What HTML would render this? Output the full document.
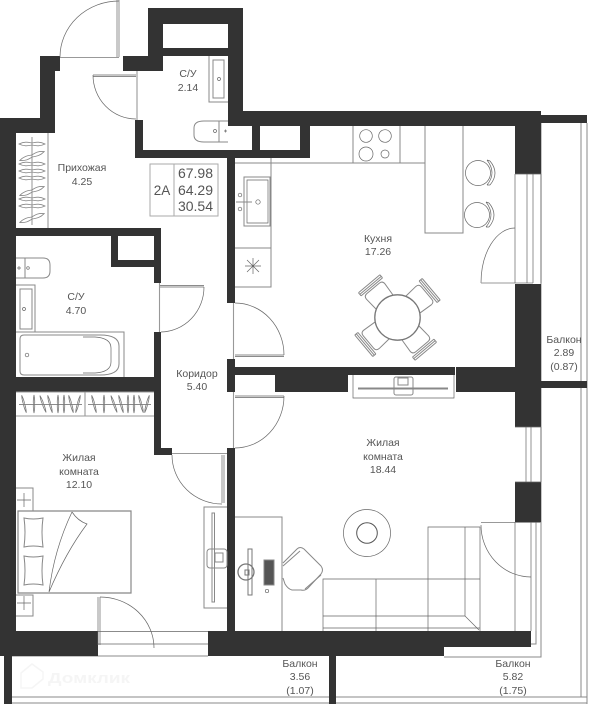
<!DOCTYPE html>
<html><head><meta charset="utf-8"><style>
html,body{margin:0;padding:0;background:#fff;width:600px;height:704px;overflow:hidden}
svg{display:block}
text{font-family:"Liberation Sans",sans-serif;font-size:10.5px;fill:#555;text-anchor:middle}
.w{fill:#333;stroke:none}
.l{fill:none;stroke:#666;stroke-width:.7}
.g{fill:none;stroke:#999;stroke-width:1.1}
.t{fill:none;stroke:#888;stroke-width:1}
</style></head><body>
<svg width="600" height="704" viewBox="0 0 600 704" xmlns="http://www.w3.org/2000/svg">
<defs>
<path id="hh" d="M19 0C25-3 29-1.500 32-1 35-1.500 39-3 45 0 39 3 35 1.500 32 1 29 1.500 25 3 19 0Z" fill="none" stroke="#888" stroke-width=".8"/>
<path id="hv" d="M0-9C-1.200-3-.6 0-.4 0-.6 0-1.200 3 0 9 1.200 3 .6 0 .4 0 .6 0 1.200-3 0-9Z" fill="none" stroke="#777" stroke-width=".8"/>
<g id="chair" fill="none" stroke="#888" stroke-width="1">
<path d="M-11 -20L-12 -34Q-12 -38 -8 -38L8 -38Q12 -38 12 -34L11 -20"/>
<path d="M-14 -40L14 -40M-14 -42L14 -42M-14 -44L14 -44M-14 -40L-14 -44M14 -40L14 -44"/>
</g>
</defs>

<!-- balconies -->
<g class="t">
<path d="M541 123V657H444"/>
<path d="M581 123V697M587 123V704"/>
<path d="M12 697H587M12 703H587"/>
<path d="M12 656H98"/>
<path d="M536 631V644H444"/>
</g>

<!-- walls -->
<rect class="w" x="148" y="8" width="95" height="16"/>
<rect class="w" x="148" y="8" width="15" height="63"/>
<rect class="w" x="148" y="48" width="95" height="8"/>
<rect class="w" x="228" y="8" width="15" height="118"/>
<rect class="w" x="123" y="56" width="40" height="15"/>
<rect class="w" x="228" y="111" width="313" height="15"/>
<rect class="w" x="252" y="126" width="8" height="24"/>
<rect class="w" x="135" y="120" width="8" height="38"/>
<rect class="w" x="135" y="150" width="175" height="8"/>
<rect class="w" x="300" y="126" width="10" height="32"/>
<rect class="w" x="227" y="158" width="8" height="145"/>
<rect class="w" x="515" y="111" width="26" height="63"/>
<rect class="w" x="40" y="56" width="20" height="15"/>
<rect class="w" x="40" y="56" width="15" height="77"/>
<rect class="w" x="0" y="118" width="55" height="15"/>
<rect class="w" x="0" y="118" width="16" height="538"/>
<rect class="w" x="0" y="228" width="161" height="8"/>
<rect class="w" x="154" y="228" width="7" height="55"/>
<rect class="w" x="111" y="236" width="7" height="31"/>
<rect class="w" x="111" y="260" width="50" height="7"/>
<rect class="w" x="154" y="332" width="7" height="123"/>
<rect class="w" x="16" y="377" width="145" height="15"/>
<rect class="w" x="154" y="448" width="18" height="7"/>
<rect class="w" x="227" y="359" width="8" height="33"/>
<rect class="w" x="227" y="448" width="8" height="190"/>
<rect class="w" x="235" y="367" width="220" height="8"/>
<rect class="w" x="275" y="367" width="73" height="25"/>
<rect class="w" x="456" y="367" width="85" height="25"/>
<rect class="w" x="515" y="284" width="26" height="143"/>
<rect class="w" x="515" y="482" width="26" height="40"/>
<rect class="w" x="0" y="631" width="98" height="25"/>
<rect class="w" x="208" y="631" width="236" height="25"/>
<rect class="w" x="444" y="631" width="87" height="16"/>
<rect class="w" x="4" y="656" width="8" height="48"/>
<rect class="w" x="329" y="656" width="7" height="48"/>
<rect class="w" x="541" y="115" width="46" height="8"/>
<rect class="w" x="541" y="381" width="46" height="7"/>

<!-- doors -->
<g class="l">
<path d="M119 1A59 56 0 0 0 60 57"/>
<path d="M93 75A43 44 0 0 0 136 119"/>
<path d="M204 287A44 45 0 0 1 161 332"/>
<path d="M284 355A49 52 0 0 0 235 303"/>
<path d="M284 396A49 52 0 0 1 235 448"/>
<path d="M172 455A50 49 0 0 0 222 504"/>
<path d="M100 597A54 51 0 0 1 154 648"/>
<path d="M515 228A34 55 0 0 0 481 283"/>
<path d="M481 525A50 52 0 0 0 531 577"/>
<path d="M117 0V57M119 0V57"/>
<path d="M93 75H136M93 76.500H136"/>
<path d="M160 287H204M160 285.500H204"/>
<path d="M235 355H284M235 356.500H284"/>
<path d="M235 396H284M235 397.500H284"/>
<path d="M222 455V503M224 455V503"/>
<path d="M98 597V645M100 597V645"/>
</g>
<g class="g">
<path d="M60 57.500H119"/><path d="M137 71V120"/>
<path d="M159.500 283V332"/><path d="M233.500 303V359"/><path d="M233.500 392V448"/>
<path d="M172 453.500H227"/>
<path d="M481 283H533"/><path d="M481 522.500H541"/>
</g>
<g class="l">
<path d="M98 631.500H208M98 644H208M98 656H208"/>
<path d="M515 174V283M541 174V283M515 174H541M527 174V283M533 174V283"/>
<path d="M515 427H541M515 482H541M526 427V482M531 427V482M541 427V482"/>
<path d="M515 522V631M531 522V631M536 522V631"/>
<path d="M353 375V398H454V375"/>
</g>

<!-- hall wardrobe -->
<path class="g" d="M48 133V228"/>
<path class="l" d="M32 137V225"/>
<use href="#hh" y="144"/><use href="#hh" y="164"/><use href="#hh" y="171"/><use href="#hh" y="178"/><use href="#hh" y="199"/><use href="#hh" y="206"/>
<use href="#hh" transform="translate(32 156) rotate(-20) translate(-32 0)"/>
<use href="#hh" transform="translate(32 191) rotate(-20) translate(-32 0)"/>
<use href="#hh" transform="translate(32 218) rotate(-20) translate(-32 0)"/>

<!-- bedroom wardrobe -->
<path class="g" d="M16 392H154M16 416H154M85 392V416"/>
<path class="l" d="M19 404.500H82M88 404.500H151"/>
<use href="#hv" transform="translate(24 404) rotate(-15)"/><use href="#hv" transform="translate(34 404)"/><use href="#hv" transform="translate(43 404) rotate(-20)"/><use href="#hv" transform="translate(50 404) rotate(-15)"/><use href="#hv" transform="translate(58 404)"/><use href="#hv" transform="translate(64 404)"/><use href="#hv" transform="translate(71 404) rotate(-15)"/><use href="#hv" transform="translate(78 404) rotate(15)"/>
<use href="#hv" transform="translate(94 404) rotate(-15)"/><use href="#hv" transform="translate(104 404)"/><use href="#hv" transform="translate(114 404) rotate(-20)"/><use href="#hv" transform="translate(121 404) rotate(-15)"/><use href="#hv" transform="translate(128 404)"/><use href="#hv" transform="translate(134 404)"/><use href="#hv" transform="translate(141 404) rotate(-15)"/><use href="#hv" transform="translate(147 404) rotate(15)"/>

<!-- upper bath fixtures -->
<path class="t" d="M209 56V102H228M213 60H224V98H213Z"/>
<circle class="l" cx="219" cy="79" r="1.500"/>
<path class="t" d="M228 121H204Q194 121 194 128V135Q194 142 204 142H228M219 121V142"/>
<circle class="l" cx="215" cy="131" r="1.500"/><path class="l" d="M224 131H227M225.500 129.500V132.500"/>

<!-- lower bath fixtures -->
<path class="t" d="M16 258H43Q50 258 50 265V271Q50 278 43 278H16M25 258V278"/>
<circle class="l" cx="28" cy="268" r="1.300"/><path class="l" d="M17 268H21M19 266V270"/>
<path class="t" d="M16 285H35V332H16M20 289H32V329H20Z"/>
<circle class="l" cx="24" cy="309" r="1.500"/>
<path class="t" d="M16 332H124V377"/>
<path class="t" d="M24 335H100Q119 335 119 346V364Q119 375 100 375H24Q20 375 20 371V339Q20 335 24 335Z"/>
<path class="l" d="M83 337H95Q111 338 111 348V362Q111 372 95 373H83"/>
<circle class="l" cx="27" cy="355" r="1.800"/>

<!-- kitchen -->
<path class="t" d="M235 163H425M353 126V163M400 126V163"/>
<path class="t" d="M425 126V233H463V126"/>
<g class="l"><circle cx="366" cy="136" r="6.300"/><circle cx="385" cy="136" r="6.300"/><circle cx="366" cy="154" r="7"/><circle cx="385" cy="154" r="4"/></g>
<path class="t" d="M271 158V287H235M235 248H271"/>
<path class="t" d="M244 177H270V226H244Z"/>
<path class="l" d="M247 180H268V223H247Z"/>
<g class="l"><circle cx="240" cy="195" r="1.800"/><circle cx="240" cy="209" r="1.800"/><circle cx="258" cy="202" r="2.200"/></g>
<path class="t" d="M236 202H252" stroke-width="2"/>
<path class="l" d="M245 266H261M253 258V274M247 260L259 272M259 260L247 272"/>
<g class="l">
<circle cx="478" cy="173" r="12.500"/><circle cx="477" cy="215" r="12.500"/>
<path d="M487 160Q497 173 487 185M490 161Q500 173 490 185M487 160L490 161M487 185L490 185"/>
<path d="M486 202Q496 215 486 227M489 203Q499 215 489 227M486 202L489 203M486 227L489 227"/>
</g>

<!-- dining -->
<use href="#chair" transform="translate(397.500 317.500) rotate(-40)"/>
<use href="#chair" transform="translate(397.500 317.500) rotate(50)"/>
<use href="#chair" transform="translate(397.500 317.500) rotate(140)"/>
<use href="#chair" transform="translate(397.500 317.500) rotate(230)"/>
<circle cx="397.500" cy="317.500" r="22.700" fill="#fff" stroke="#777" stroke-width="1.300"/>

<!-- living -->
<g class="t">
<path d="M358 389H448"/><path d="M358 388H448"/>
<rect x="394" y="377" width="19" height="18" rx="2"/>
<rect x="398" y="378" width="10" height="7"/>
</g>
<circle class="l" cx="367" cy="533" r="23.500"/>
<circle cx="367" cy="533" r="10.300" fill="none" stroke="#555" stroke-width="1"/>
<g class="l">
<path d="M323 631V579H480M376 579V631M428 631V527H480V631"/>
<path d="M465 527V616H323M465 616L479 630M323 628H480"/>
</g>
<!-- desk -->
<path class="t" d="M235 517H282V631"/>
<g fill="none" stroke="#777">
<rect x="248" y="549" width="4" height="46" stroke-width="1"/>
<circle cx="246" cy="572" r="8" stroke-width="1.300"/>
<rect x="245" y="570" width="4" height="5" stroke-width="1"/>
</g>
<rect x="264" y="560" width="10" height="25" fill="#555" stroke="#888"/>
<circle class="l" cx="267" cy="591" r="1.700"/>
<g class="t">
<path d="M283 563L297 549Q300 546 304 549L321 566Q324 570 321 574L308 588Q305 591 301 590L292 590Q288 589 285 584L283 578"/>
<path d="M283 566L300 551M305 589L321 575"/>
</g>

<!-- bedroom tv -->
<path class="t" d="M227 507H204V608H227"/>
<g class="t">
<rect x="212" y="513" width="2.500" height="89"/>
<rect x="207" y="549" width="20" height="19" rx="3"/>
<rect x="215" y="553" width="8" height="9"/>
</g>

<!-- bed -->
<path class="t" d="M16 488H33V511M16 616H33V595H16" />
<path d="M18 511H131V593H18Z" fill="none" stroke="#888" stroke-width="1.200"/>
<g class="t" stroke-width=".8">
<path d="M24 518Q33 520 43 518Q41 532 43 547Q33 545 24 547Q26 532 24 518Z"/>
<path d="M24 556Q33 558 43 556Q41 571 43 585Q33 583 24 585Q26 571 24 556Z"/>
</g>
<g class="l" stroke="#777">
<path d="M72 512Q54 550 49 592M72 512Q78 521 87 524Q66 552 49 592"/>
</g>
<g class="l" stroke="#777"><path d="M24 500H25M24 493V507M17 500H31"/><path d="M24 603H25M24 596V610M17 603H31"/></g>

<!-- area box -->
<path d="M150 164H218V216H150ZM174 164V216" fill="none" stroke="#aaa" stroke-width="1"/>
<text x="162" y="195" style="font-size:13.500px">2A</text>
<text x="195.500" y="178" style="font-size:14px">67.98</text>
<text x="195.500" y="195" style="font-size:14px">64.29</text>
<text x="195.500" y="211" style="font-size:14px">30.54</text>

<!-- labels -->
<text x="188" y="77">С/У</text><text x="188" y="91">2.14</text>
<text x="82" y="171">Прихожая</text><text x="82" y="185">4.25</text>
<text x="378" y="242">Кухня</text><text x="378" y="255">17.26</text>
<text x="76" y="300">С/У</text><text x="76" y="314">4.70</text>
<text x="197" y="377">Коридор</text><text x="197" y="390">5.40</text>
<text x="79" y="461">Жилая</text><text x="79" y="475">комната</text><text x="79" y="488">12.10</text>
<text x="564" y="343">Балкон</text><text x="564" y="356">2.89</text><text x="564" y="370">(0.87)</text>
<text x="383" y="446">Жилая</text><text x="383" y="460">комната</text><text x="383" y="473">18.44</text>
<text x="513" y="667">Балкон</text><text x="513" y="680">5.82</text><text x="513" y="694">(1.75)</text>
<text x="300" y="667">Балкон</text><text x="300" y="680">3.56</text><text x="300" y="694">(1.07)</text>
<path d="M21 673L32 664L43 672V679L32 688L21 688Z" fill="none" stroke="#f5f5f5" stroke-width="1.500"/>
<text x="89" y="683" textLength="82" lengthAdjust="spacingAndGlyphs" style="font-size:15px;fill:#f5f5f5;font-weight:bold">Домклик</text>
</svg>
</body></html>
